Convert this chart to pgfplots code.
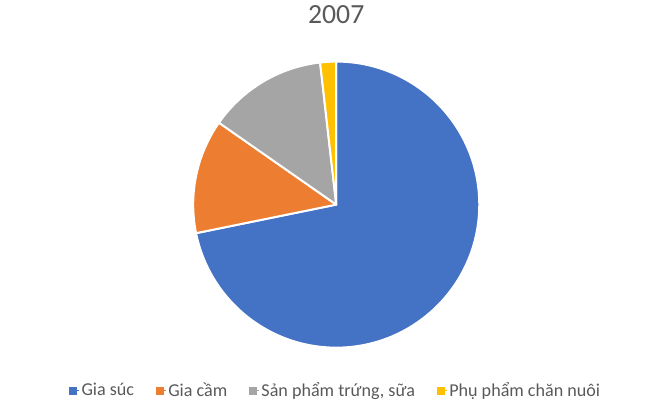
\documentclass[border=0pt]{standalone}
\usepackage{fontspec}
\setmainfont{Carlito}
\usepackage{pgfplots}
\usepackage{pgfplotstable}
\pgfplotsset{compat=1.18}

\definecolor{c0}{HTML}{4472C4}
\definecolor{c1}{HTML}{ED7D31}
\definecolor{c2}{HTML}{A5A5A5}
\definecolor{c3}{HTML}{FFC000}
\definecolor{txt}{HTML}{595959}

% share of each group, percent
\pgfplotstableread{
label value
{Gia súc} 71.8
{Gia cầm} 12.9
{Sản phẩm trứng, sữa} 13.5
{Phụ phẩm chăn nuôi} 1.8
}\piedata

\begin{document}
% start and end angle of each slice, clockwise from 12 o'clock
\gdef\cum{0}
\pgfplotsforeachungrouped \i in {0,...,3}{%
  \pgfplotstablegetelem{\i}{value}\of\piedata
  \pgfmathsetmacro\sa{90-3.6*\cum}%
  \pgfmathsetmacro\newcum{\cum+\pgfplotsretval}%
  \xdef\cum{\newcum}%
  \pgfmathsetmacro\ea{90-3.6*\cum}%
  \expandafter\xdef\csname sa\i\endcsname{\sa}%
  \expandafter\xdef\csname ea\i\endcsname{\ea}%
}
\begin{tikzpicture}
\begin{axis}[
    hide axis,
    x=1bp, y=1bp,
    xmin=0, xmax=665, ymin=0, ymax=409,
    clip=false,
    title={2007},
    title style={at={(axis cs:334,379)}, anchor=base, inner sep=0pt,
        font=\fontsize{28}{33}\selectfont, text=txt},
    legend columns=4,
    legend style={at={(axis cs:65,16)}, anchor=west, draw=none, fill=none,
        inner sep=0pt, font=\fontsize{18.3}{22}\selectfont, text=txt,
        /tikz/every even column/.append style={column sep=20bp}},
    legend cell align=left,
    legend image code/.code={\fill[#1] (0bp,-3.5bp) rectangle (7bp,3.5bp);
        \path (0bp,0bp) -- (10bp,0bp);},
]
\path (axis cs:0,0) rectangle (axis cs:665,409);
\pgfplotsinvokeforeach{0,...,3}{
  \fill[fill=c#1, draw=white, line width=2bp, line join=round]
    (axis cs:334,203) -- ++(\csname sa#1\endcsname:144bp)
    arc[start angle=\csname sa#1\endcsname, end angle=\csname ea#1\endcsname, radius=144bp]
    -- cycle;
}
\addlegendimage{c0}\addlegendentry{Gia súc}
\addlegendimage{c1}\addlegendentry{Gia cầm}
\addlegendimage{c2}\addlegendentry{Sản phẩm trứng, sữa}
\addlegendimage{c3}\addlegendentry{Phụ phẩm chăn nuôi}
\end{axis}
\end{tikzpicture}
\end{document}
